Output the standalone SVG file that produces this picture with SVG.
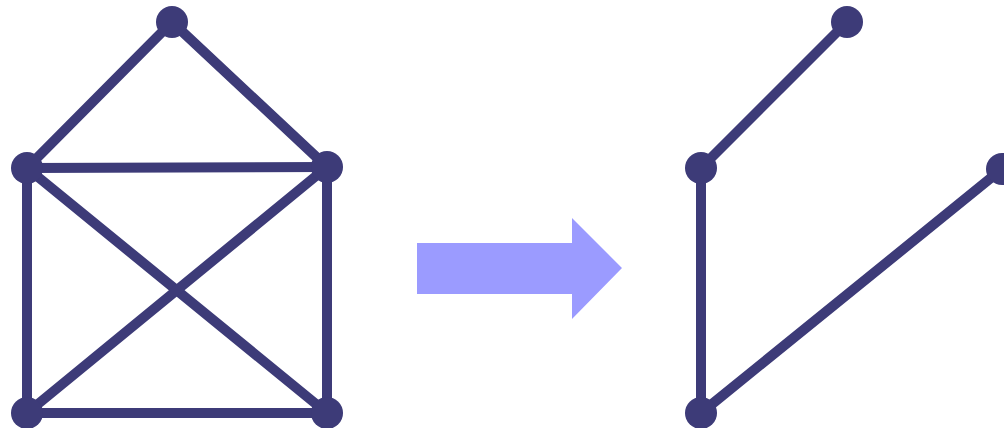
<svg xmlns="http://www.w3.org/2000/svg" width="1004" height="428" viewBox="0 0 1004 428">
<style>
.e{stroke:#3d3b78;stroke-width:10;stroke-linecap:round;fill:none}
.n{fill:#3d3b78}
.a{fill:#9b9bff}
</style>
<rect width="1004" height="428" fill="#ffffff"/>
<g id="connectors">
<line class="e" x1="172" y1="22" x2="27" y2="168"/>
<line class="e" x1="172" y1="22" x2="327" y2="167"/>
<line class="e" x1="27" y1="168" x2="327" y2="167"/>
<line class="e" x1="27" y1="168" x2="27" y2="413"/>
<line class="e" x1="327" y1="167" x2="327" y2="413"/>
<line class="e" x1="27" y1="413" x2="327" y2="413"/>
<line class="e" x1="27" y1="168" x2="327" y2="413"/>
<line class="e" x1="327" y1="167" x2="27" y2="413"/>
<line class="e" x1="847" y1="22" x2="701" y2="168"/>
<line class="e" x1="701" y1="168" x2="701" y2="413"/>
<line class="e" x1="1002" y1="169" x2="701" y2="413"/>
</g>
<g id="n1"><circle class="n" cx="172" cy="22" r="16"/></g>
<g id="n2"><circle class="n" cx="27" cy="168" r="16"/></g>
<g id="n3"><circle class="n" cx="327" cy="167" r="16"/></g>
<g id="n4"><circle class="n" cx="27" cy="413" r="16"/></g>
<g id="n5"><circle class="n" cx="327" cy="413" r="16"/></g>
<g id="arrow"><polygon class="a" points="417,243 572,243 572,218 622,268 572,319 572,294 417,294"/></g>
<g id="m1"><circle class="n" cx="847" cy="22" r="16"/></g>
<g id="m2"><circle class="n" cx="701" cy="168" r="16"/></g>
<g id="m3"><circle class="n" cx="1002" cy="169" r="16"/></g>
<g id="m4"><circle class="n" cx="701" cy="413" r="16"/></g>
</svg>
